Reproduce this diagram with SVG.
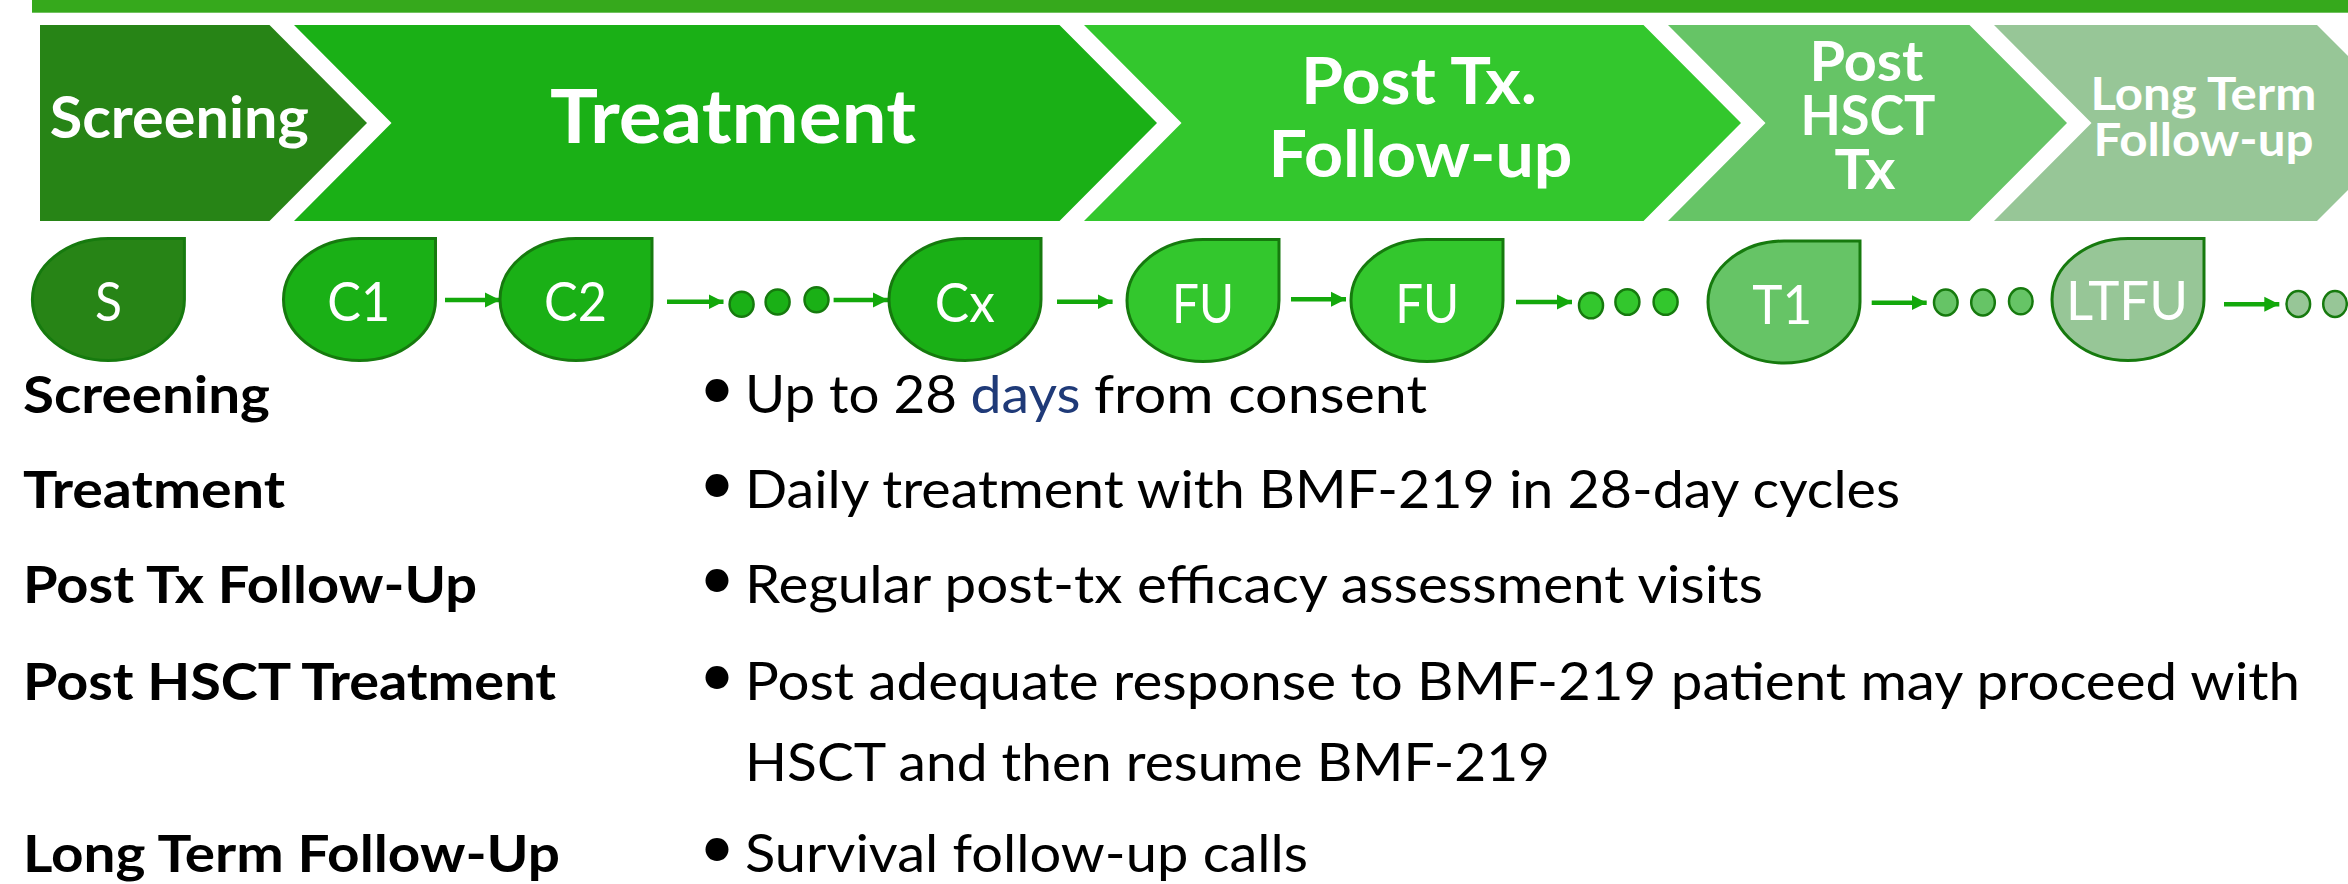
<svg xmlns="http://www.w3.org/2000/svg" xmlns:xlink="http://www.w3.org/1999/xlink" width="2348" height="884" viewBox="0 0 2348 884">
<style>
.ph{font-family:Lato,"Open Sans","Liberation Sans",sans-serif;font-weight:700;fill:#ffffff;text-anchor:middle}
.nt{font-family:Lato,"Open Sans","Liberation Sans",sans-serif;font-weight:400;fill:#ffffff;text-anchor:middle;font-size:54px}
.hd{font-family:Lato,"Open Sans","Liberation Sans",sans-serif;font-weight:700;fill:#000000;font-size:52px}
.bt{font-family:Lato,"Open Sans","Liberation Sans",sans-serif;font-weight:400;fill:#000000;font-size:52px}
.bu{font-family:Lato,"Open Sans","Liberation Sans",sans-serif;font-weight:400;fill:#000000;font-size:62px}
.node{stroke:#167A0E;stroke-width:3}
.dot{stroke:#167A0E;stroke-width:2.5}
.conn{stroke:#13A80B;stroke-width:4.5;fill:none}
.c0{fill:#278416}.c1{fill:#1AB016}.c2{fill:#33C72D}.c3{fill:#66C466}.c4{fill:#97C697}
</style>
<defs>
<path id="drop" d="M0,-61 L76,-61 L76,0 A76,61 0 0 1 0,61 A76,61 0 0 1 -76,0 A76,61 0 0 1 0,-61 Z"/>
<marker id="ah" markerUnits="userSpaceOnUse" markerWidth="16" markerHeight="16" refX="15" refY="8" orient="auto">
<path d="M0,0.5 L15,8 L0,15.5 Z" fill="#13A80B"/>
</marker>
</defs>
<rect x="32" y="0" width="2316" height="12.7" fill="#36A91C"/>
<g id="phase-screening">
<path class="c0" d="M40,25 L269.5,25 L367,123 L269.5,221 L40,221 Z"/>
<text class="ph" x="179.3" y="138.3" font-size="58" textLength="259" lengthAdjust="spacingAndGlyphs">Screening</text>
</g>
<g id="phase-treatment">
<path class="c1" d="M294,25 L1059.5,25 L1157,123 L1059.5,221 L294,221 L391.5,123 Z"/>
<text class="ph" x="733" y="143.3" font-size="75" textLength="366" lengthAdjust="spacingAndGlyphs">Treatment</text>
</g>
<g id="phase-posttx">
<path class="c2" d="M1084,25 L1643.5,25 L1741,123 L1643.5,221 L1084,221 L1181.5,123 Z"/>
<text class="ph" x="1419" y="104" font-size="65" textLength="236" lengthAdjust="spacingAndGlyphs">Post Tx.</text>
<text class="ph" x="1420.5" y="176.7" font-size="65" textLength="304" lengthAdjust="spacingAndGlyphs">Follow-up</text>
</g>
<g id="phase-hsct">
<path class="c3" d="M1668,25 L1969.5,25 L2067,123 L1969.5,221 L1668,221 L1765.5,123 Z"/>
<text class="ph" x="1866.5" y="80.7" font-size="56" textLength="114" lengthAdjust="spacingAndGlyphs">Post</text>
<text class="ph" x="1868" y="135" font-size="56" textLength="135" lengthAdjust="spacingAndGlyphs">HSCT</text>
<text class="ph" x="1865" y="189" font-size="56" textLength="61" lengthAdjust="spacingAndGlyphs">Tx</text>
</g>
<g id="phase-ltfu">
<path class="c4" d="M1994,25 L2317,25 L2415,123 L2317,221 L1994,221 L2091.5,123 Z"/>
<text class="ph" x="2203.4" y="110" font-size="46" textLength="226" lengthAdjust="spacingAndGlyphs">Long Term</text>
<text class="ph" x="2203.5" y="156" font-size="46" textLength="220" lengthAdjust="spacingAndGlyphs">Follow-up</text>
</g>
<g id="connectors">
<line class="conn" x1="445" y1="300" x2="500" y2="300" marker-end="url(#ah)"/>
<line class="conn" x1="667" y1="301.7" x2="723.5" y2="301.7" marker-end="url(#ah)"/>
<line class="conn" x1="833.6" y1="300" x2="888" y2="300" marker-end="url(#ah)"/>
<line class="conn" x1="1057" y1="301.7" x2="1112.6" y2="301.7" marker-end="url(#ah)"/>
<line class="conn" x1="1291" y1="299.3" x2="1346" y2="299.3" marker-end="url(#ah)"/>
<line class="conn" x1="1516" y1="302" x2="1572" y2="302" marker-end="url(#ah)"/>
<line class="conn" x1="1871.7" y1="302.7" x2="1926.7" y2="302.7" marker-end="url(#ah)"/>
<line class="conn" x1="2224" y1="304.3" x2="2279.3" y2="304.3" marker-end="url(#ah)"/>
</g>
<g id="dots-1">
<ellipse class="dot c1" cx="741.6" cy="304.2" rx="12" ry="12.5"/>
<ellipse class="dot c1" cx="777.6" cy="302" rx="12" ry="12.5"/>
<ellipse class="dot c1" cx="816.5" cy="299.7" rx="12" ry="12.5"/>
</g>
<g id="dots-2">
<ellipse class="dot c2" cx="1591" cy="305.5" rx="12" ry="12.8"/>
<ellipse class="dot c2" cx="1627.4" cy="302" rx="12" ry="12.8"/>
<ellipse class="dot c2" cx="1665.6" cy="302" rx="12" ry="12.8"/>
</g>
<g id="dots-3">
<ellipse class="dot c3" cx="1945.8" cy="302.5" rx="11.8" ry="13"/>
<ellipse class="dot c3" cx="1983" cy="302.5" rx="11.8" ry="13"/>
<ellipse class="dot c3" cx="2020.8" cy="301.3" rx="11.8" ry="13"/>
</g>
<g id="dots-4">
<ellipse class="dot c4" cx="2298.3" cy="304" rx="11.8" ry="13"/>
<ellipse class="dot c4" cx="2335" cy="304" rx="11.8" ry="13"/>
</g>
<g id="node-S">
<use xlink:href="#drop" href="#drop" class="node c0" transform="translate(108.4,299.5)"/>
<text class="nt" x="108.4" y="320.7" textLength="27" lengthAdjust="spacingAndGlyphs">S</text>
</g>
<g id="node-C1">
<use xlink:href="#drop" href="#drop" class="node c1" transform="translate(359.5,299.5)"/>
<text class="nt" x="358.8" y="320.7" textLength="63" lengthAdjust="spacingAndGlyphs">C1</text>
</g>
<g id="node-C2">
<use xlink:href="#drop" href="#drop" class="node c1" transform="translate(576,299.5)"/>
<text class="nt" x="575.5" y="320.7" textLength="63" lengthAdjust="spacingAndGlyphs">C2</text>
</g>
<g id="node-Cx">
<use xlink:href="#drop" href="#drop" class="node c1" transform="translate(965,299.5)"/>
<text class="nt" x="964.8" y="321.5" textLength="60" lengthAdjust="spacingAndGlyphs">Cx</text>
</g>
<g id="node-FU1">
<use xlink:href="#drop" href="#drop" class="node c2" transform="translate(1203,300.5)"/>
<text class="nt" x="1203" y="322.7" textLength="62" lengthAdjust="spacingAndGlyphs">FU</text>
</g>
<g id="node-FU2">
<use xlink:href="#drop" href="#drop" class="node c2" transform="translate(1427,300.5)"/>
<text class="nt" x="1427.3" y="322.7" textLength="64" lengthAdjust="spacingAndGlyphs">FU</text>
</g>
<g id="node-T1">
<use xlink:href="#drop" href="#drop" class="node c3" transform="translate(1784,302)"/>
<text class="nt" x="1782.3" y="324" textLength="60" lengthAdjust="spacingAndGlyphs">T1</text>
</g>
<g id="node-LTFU">
<use xlink:href="#drop" href="#drop" class="node c4" transform="translate(2128,299.5)"/>
<text class="nt" x="2127" y="320" textLength="122" lengthAdjust="spacingAndGlyphs">LTFU</text>
</g>
<g id="legend">
<text class="hd" x="23" y="412.7" textLength="247" lengthAdjust="spacingAndGlyphs">Screening</text>
<text class="hd" x="23" y="508.3" textLength="262" lengthAdjust="spacingAndGlyphs">Treatment</text>
<text class="hd" x="23" y="603.3" textLength="454" lengthAdjust="spacingAndGlyphs">Post Tx Follow-Up</text>
<text class="hd" x="23" y="700" textLength="533" lengthAdjust="spacingAndGlyphs">Post HSCT Treatment</text>
<text class="hd" x="23" y="872" textLength="537" lengthAdjust="spacingAndGlyphs">Long Term Follow-Up</text>
<text class="bu" x="699" y="408.7">•</text>
<text class="bu" x="699" y="504.3">•</text>
<text class="bu" x="699" y="599.3">•</text>
<text class="bu" x="699" y="696">•</text>
<text class="bu" x="699" y="868">•</text>
<text class="bt" x="745" y="412.7" textLength="212" lengthAdjust="spacingAndGlyphs">Up to 28</text>
<text class="bt" x="970.5" y="412.7" textLength="110" lengthAdjust="spacingAndGlyphs" style="fill:#1F3A78">days</text>
<text class="bt" x="1094" y="412.7" textLength="333" lengthAdjust="spacingAndGlyphs">from consent</text>
<text class="bt" x="745" y="508.3" textLength="1155" lengthAdjust="spacingAndGlyphs">Daily treatment with BMF-219 in 28-day cycles</text>
<text class="bt" x="745" y="603.3" textLength="1018" lengthAdjust="spacingAndGlyphs">Regular post-tx efficacy assessment visits</text>
<text class="bt" x="745" y="700" textLength="1555" lengthAdjust="spacingAndGlyphs">Post adequate response to BMF-219 patient may proceed with</text>
<text class="bt" x="745" y="780.7" textLength="805" lengthAdjust="spacingAndGlyphs">HSCT and then resume BMF-219</text>
<text class="bt" x="745" y="872" textLength="563" lengthAdjust="spacingAndGlyphs">Survival follow-up calls</text>
</g>
</svg>
